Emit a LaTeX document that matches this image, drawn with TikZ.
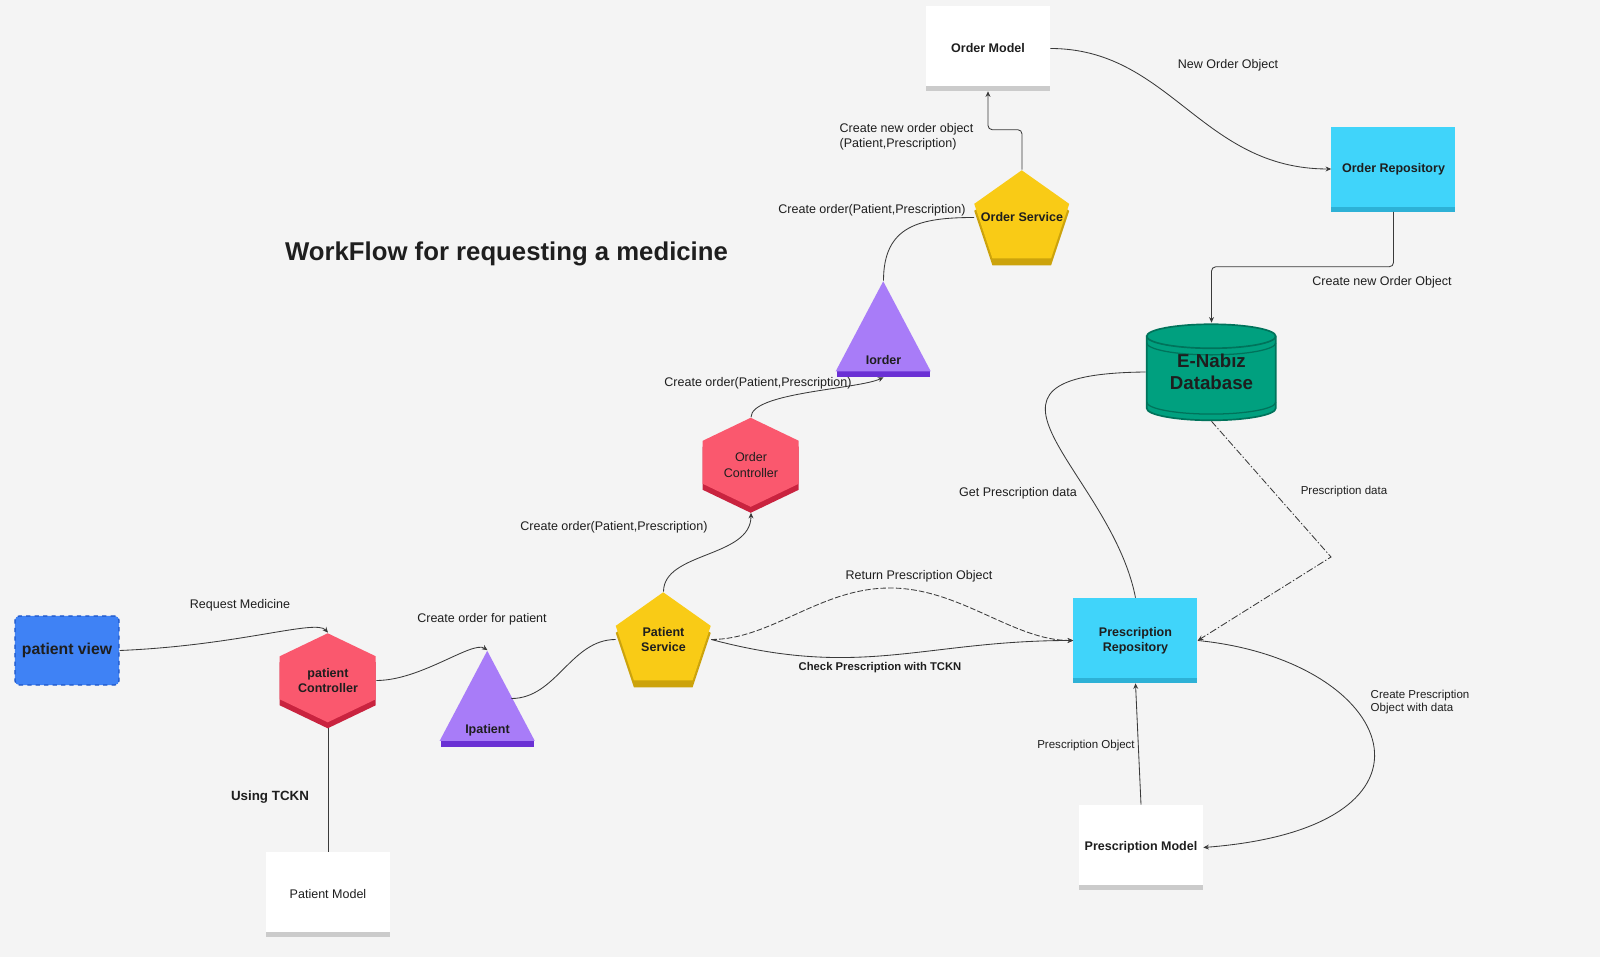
\documentclass[tikz,border=0pt]{standalone}
\usepackage{fontspec}
\setmainfont{Liberation Sans}
\usetikzlibrary{arrows.meta,calc,backgrounds}

\definecolor{canvas}{HTML}{F4F4F4}
\definecolor{ink}{HTML}{1E1E1E}
\definecolor{wire}{HTML}{3A3A3A}
\definecolor{modelband}{HTML}{CBCBCB}
\definecolor{repofill}{HTML}{40D4FA}
\definecolor{repoband}{HTML}{2DB1D6}
\definecolor{servfill}{HTML}{F9CB16}
\definecolor{servband}{HTML}{CCA30C}
\definecolor{ctrlfill}{HTML}{FA586E}
\definecolor{ctrlband}{HTML}{C9233F}
\definecolor{ifacefill}{HTML}{A87CF8}
\definecolor{ifaceband}{HTML}{6A30D4}
\definecolor{dbfill}{HTML}{00A07F}
\definecolor{dbline}{HTML}{00735B}
\definecolor{viewfill}{HTML}{3F82F5}
\definecolor{viewline}{HTML}{1C55C8}

\tikzset{
  link/.style={draw=wire, line width=0.6pt},
  tip/.style={-{Stealth[length=4pt,width=3.5pt]}},
  lbl/.style={text=ink, inner sep=1pt, font=\fontsize{8.9}{10.5}\selectfont},
  lbls/.style={lbl, font=\fontsize{8.2}{9.6}\selectfont},
  lblb/.style={lbl, font=\fontsize{8}{10}\selectfont\bfseries},
  nodefont/.style={text=ink, align=center, font=\fontsize{8.9}{10.8}\selectfont\bfseries},
  box/.style={rectangle, nodefont, minimum width=3.1cm, minimum height=2.125cm},
  hexa/.style={rectangle, nodefont, minimum width=2.4cm, minimum height=2.375cm},
  penta/.style={rectangle, nodefont, minimum width=2.375cm, minimum height=2.375cm},
  tri/.style={rectangle, nodefont, minimum width=2.375cm, inner ysep=0.125cm,
    text height=1.95cm, text depth=0.2cm},
  cyl/.style={rectangle, text=ink, align=center, font=\fontsize{13.3}{15.5}\selectfont\bfseries,
    minimum width=3.275cm, minimum height=2.45cm},
  view/.style={rectangle, nodefont, font=\fontsize{11.2}{13}\selectfont\bfseries, fill=viewfill,
    draw=viewline, dashed, line width=1pt, rounded corners=3pt, minimum width=2.6cm, minimum height=1.725cm}
}

\begin{document}
\begin{tikzpicture}[x=0.025cm, y=-0.025cm]
\useasboundingbox (0,0) rectangle (1600,957);

\node[text=ink, font=\fontsize{18.3}{22}\selectfont\bfseries] (title) at (506.5,254) {WorkFlow for requesting a medicine};

% order side
\node[box] (om) at (988,48.5) {Order Model};
\node[penta] (os) at (1022,217.5) {Order Service};
\node[box] (orp) at (1393.5,169) {Order Repository};
\node[cyl] (db) at (1211.5,372) {E-Nabız\\Database};
\node[tri] (io) at (883.5,329) {Iorder};
\node[hexa, font=\fontsize{8.9}{10.8}\selectfont] (oc) at (751,465) {Order\\Controller};

% patient side
\node[view] (pv) at (67,650.5) {patient view};
\node[hexa] (pc) at (328,680.5) {patient\\Controller};
\node[tri] (ip) at (487.5,698.5) {Ipatient};
\node[penta] (ps) at (663.5,639.5) {Patient\\Service};
\node[box, font=\fontsize{8.9}{10.5}\selectfont] (pm) at (328,894.5) {Patient Model};
\node[box] (prr) at (1135.5,640.5) {Prescription\\Repository};
\node[box] (prm) at (1141,847.5) {Prescription Model};

% shapes behind the texts
\begin{scope}[on background layer]
  \fill[canvas] (0,0) rectangle (1600,957);
  \foreach \n/\f/\b in {om/white/modelband, pm/white/modelband, prm/white/modelband,
                        orp/repofill/repoband, prr/repofill/repoband}{
    \begin{scope}[shift={(\n.south west)}, x=1cm, y=1cm]
      \fill[\b] (0,0) rectangle (3.1,0.125);
      \fill[\f] (0,0.125) rectangle (3.1,2.125);
    \end{scope}
  }
  \foreach \n in {oc,pc}{
    \begin{scope}[shift={(\n.south west)}, x=1cm, y=1cm]
      \fill[ctrlband] (1.2,2.225) -- (2.4,1.65) -- (2.4,0.575) -- (1.2,0) -- (0,0.575) -- (0,1.65) -- cycle;
      \fill[ctrlfill] (1.2,2.375) -- (2.4,1.8) -- (2.4,0.725) -- (1.2,0.15) -- (0,0.725) -- (0,1.8) -- cycle;
    \end{scope}
  }
  \foreach \n in {os,ps}{
    \begin{scope}[shift={(\n.south west)}, x=1cm, y=1cm]
      \fill[servband] (1.1875,2.2) -- (2.375,1.36) -- (1.921,0) -- (0.454,0) -- (0,1.36) -- cycle;
      \fill[servfill] (1.1875,2.375) -- (2.375,1.535) -- (1.921,0.175) -- (0.454,0.175) -- (0,1.535) -- cycle;
    \end{scope}
  }
  \foreach \n in {io,ip}{
    \begin{scope}[shift={(\n.south west)}, x=1cm, y=1cm]
      \fill[ifaceband] (0.03,0) rectangle (2.345,0.16);
      \fill[ifacefill] (1.1875,2.4) -- (2.375,0.15) -- (0,0.15) -- cycle;
    \end{scope}
  }
  \begin{scope}[shift={(db.south west)}, x=1cm, y=1cm, line width=1.2pt]
    \filldraw[fill=dbfill, draw=dbline] (0.025,2.125) -- (0.025,0.325)
      arc[start angle=180, end angle=360, x radius=1.6125, y radius=0.3] -- (3.25,2.125)
      arc[start angle=0, end angle=180, x radius=1.6125, y radius=0.3] -- cycle;
    \draw[dbline] (0.025,2.125) arc[start angle=180, end angle=360, x radius=1.6125, y radius=0.3];
    \draw[dbline, line width=0.9pt] (0.025,1.96) arc[start angle=180, end angle=360, x radius=1.6125, y radius=0.3];
    \draw[dbline, line width=0.9pt] (0.025,0.48) arc[start angle=180, end angle=360, x radius=1.6125, y radius=0.3];
  \end{scope}
\end{scope}

\coordinate (bend) at (1331,557);

\draw[link,tip] (pv.east) .. controls +(120,-5) and +(-12,-14) .. (pc.north);
\draw[link,tip] (pc.east) .. controls +(45,0) and +(-15,-10) .. (ip.north);
\draw[link] ($(ip.north)!0.5!(ip.south east)$) .. controls +(45,0) and +(-45,0) .. (ps.west);
\draw[link,tip] (ps.north) .. controls +(0,-40) and +(0,45) .. (oc.south);
\draw[link,tip] (oc.north) .. controls +(0,-25) and +(-25,12) .. (io.south);
\draw[link] (io.north) .. controls +(0,-55) and +(-55,0) .. (os.west);
\draw[link,tip,rounded corners=3pt] (os.north) -- ++(0,-40) -| (om.south);
\draw[link,tip] (om.east) .. controls +(120,0) and +(-130,0) .. (orp.west);
\draw[link,tip,rounded corners=3pt] (orp.south) -- ++(0,55) -| (db.north);
\draw[link] (prr.north) .. controls +(-25,-128) and +(-206,2) .. (db.west);
\draw[link,tip,dash pattern=on 5pt off 1.5pt on 1pt off 1.5pt] (db.south) -- (bend) -- (prr.east);
\draw[link,tip] (ps.east) .. controls +(150,40) and +(-150,0) .. (prr.west);
\draw[link,tip,dash pattern=on 4pt off 1.5pt] (ps.east) .. controls +(60,0) and +(-70,0) .. (890,588)
  .. controls +(70,0) and +(-60,0) .. (prr.west);
\draw[link,tip] (prm.north) -- (prr.south);
\draw[link,tip] (prr.east) .. controls +(200,20) and +(260,-20) .. (prm.east);
\draw[link] (pc.south) -- (pm.north);

% labels
\node[lbl] (lreq) at (240,605) {Request Medicine};
\node[lbl] (lcop) at (482,619) {Create order for patient};
\node[lbl] (lco1) at (614,527) {Create order(Patient,Prescription)};
\node[lbl] (lco2) at (758,383) {Create order(Patient,Prescription)};
\node[lbl] (lco3) at (872,210) {Create order(Patient,Prescription)};
\node[lbl, anchor=west, align=left] (lnew) at (838,137) {Create new order object\\(Patient,Prescription)};
\node[lbl] (lnoo) at (1228,65) {New Order Object};
\node[lbl] (lcno) at (1382,282) {Create new Order Object};
\node[lbl] (lget) at (1018,493) {Get Prescription data};
\node[lbls] (lpd) at (1344,492) {Prescription data};
\node[lbl] (lret) at (919,576) {Return Prescription Object};
\node[lblb] (lchk) at (880,668) {Check Prescription with TCKN};
\node[lbls] (lpo) at (1086,746) {Prescription Object};
\node[lbls, anchor=west, align=left] (lcpo) at (1369,702) {Create Prescription\\Object with data};
\node[lblb, font=\fontsize{9.5}{11}\selectfont\bfseries] (ltckn) at (270,797) {Using TCKN};
\end{tikzpicture}
\end{document}
